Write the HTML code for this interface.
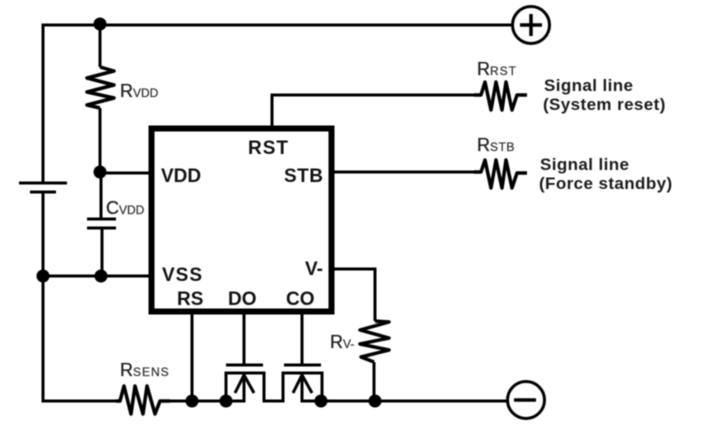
<!DOCTYPE html>
<html><head><meta charset="utf-8"><style>
html,body{margin:0;padding:0;background:#fff;width:722px;height:429px;overflow:hidden}
svg{display:block;filter:blur(0.45px)}
text{font-family:"Liberation Sans",sans-serif;fill:#111}
.b{font-weight:bold;font-size:19px}
.r{font-size:18px;fill:#222;stroke:#222;stroke-width:.3px}
.s{font-size:12px;fill:#333;stroke:#333;stroke-width:.25px}
.t{font-weight:bold;font-size:17px;fill:#1a1a1a;letter-spacing:.4px}
</style></head><body>
<svg width="722" height="429" viewBox="0 0 722 429" xmlns="http://www.w3.org/2000/svg">
<g fill="none" stroke="#000" stroke-width="3" stroke-linejoin="miter">
<!-- top / left rail -->
<path d="M512 25H43V183M43 192V401H118"/>
<path d="M19 183H67M30 192H56"/>
<!-- wires -->
<path d="M100 24V67M100 108V173"/>
<path d="M100 173H150"/>
<!-- CVDD -->
<path d="M101 173V219M87 219H116M87 228H116M102 228V276"/>
<path d="M43 276H150"/>
<path d="M272 128V95H478"/>
<path d="M333 172H478"/>
<path d="M333 269H375V321M374 362V401"/>
<path d="M110 401H120M160 401H192H226"/>
<path d="M192 311V401"/>
<!-- FET 1 -->
<path d="M244 311V365M226 365H263"/>
<path d="M226 401V373H264V401H283V373H322V401"/>
<path d="M244 373V401H226"/>
<path d="M235 393L244 375L254 393"/>
<!-- FET 2 -->
<path d="M302 311V365M284 365H321"/>
<path d="M302 373V401H322H375H508"/>
<path d="M293 393L302 375L312 393"/>
</g>
<!-- resistors -->
<g fill="none" stroke="#000" stroke-width="3.500" stroke-linejoin="round">
<path d="M100 67L114 71L87 78L114 85L87 92L114 98L87 105L100 108"/>
<path d="M474 95H481L485 82L491 110L496 82L502 110L506 82L512 110L517 95H527"/>
<path d="M474 172H481L485 160L491 188L496 160L502 188L506 160L512 188L517 173H527"/>
<path d="M375 321L389 322L360 330L389 338L360 344L389 350L361 357L374 362"/>
<path d="M116 401H120L124 386L131 414L135 386L143 414L147 386L155 414L160 401H170"/>
</g>
<!-- IC -->
<rect x="151.500" y="128.500" width="180" height="183" fill="none" stroke="#000" stroke-width="6"/>
<!-- nodes -->
<g fill="#000">
<circle cx="100" cy="24" r="6.500"/>
<circle cx="100" cy="172" r="6.500"/>
<circle cx="43" cy="276" r="6.500"/>
<circle cx="101" cy="276" r="6.500"/>
<circle cx="192" cy="401" r="6.500"/>
<circle cx="226" cy="401" r="6.500"/>
<circle cx="321" cy="401" r="6.500"/>
<circle cx="375" cy="401" r="6.500"/>
</g>
<!-- terminals -->
<circle cx="531" cy="25" r="18.500" fill="#fff" stroke="#000" stroke-width="3"/>
<path d="M520 25H542M531 14V36" stroke="#000" stroke-width="3.500" fill="none"/>
<circle cx="526" cy="400" r="18.500" fill="#fff" stroke="#000" stroke-width="3"/>
<path d="M514 400H536" stroke="#000" stroke-width="3.500" fill="none"/>
<!-- pin labels -->
<text class="b" x="161" y="182">VDD</text>
<text class="b" x="248" y="154" letter-spacing="1">RST</text>
<text class="b" x="284" y="182" letter-spacing="0.500">STB</text>
<text class="b" x="162" y="281" letter-spacing="1">VSS</text>
<text class="b" x="305" y="275">V-</text>
<text class="b" x="177" y="305">RS</text>
<text class="b" x="228" y="305">DO</text>
<text class="b" x="286" y="305">CO</text>
<!-- component labels -->
<text x="120" y="97"><tspan class="r">R</tspan><tspan class="s">VDD</tspan></text>
<text x="106" y="214"><tspan class="r">C</tspan><tspan class="s">VDD</tspan></text>
<text x="477" y="75"><tspan class="r">R</tspan><tspan class="s" letter-spacing="1">RST</tspan></text>
<text x="477" y="151"><tspan class="r">R</tspan><tspan class="s" letter-spacing="0.500">STB</tspan></text>
<text x="330" y="348"><tspan class="r">R</tspan><tspan class="s">V-</tspan></text>
<text x="120" y="376"><tspan class="r">R</tspan><tspan class="s" letter-spacing="1">SENS</tspan></text>
<!-- signal labels -->
<text class="t" x="544" y="91">Signal line</text>
<text class="t" x="543" y="110">(System reset)</text>
<text class="t" x="540" y="170">Signal line</text>
<text class="t" x="539" y="189">(Force standby)</text>
</svg>
</body></html>
